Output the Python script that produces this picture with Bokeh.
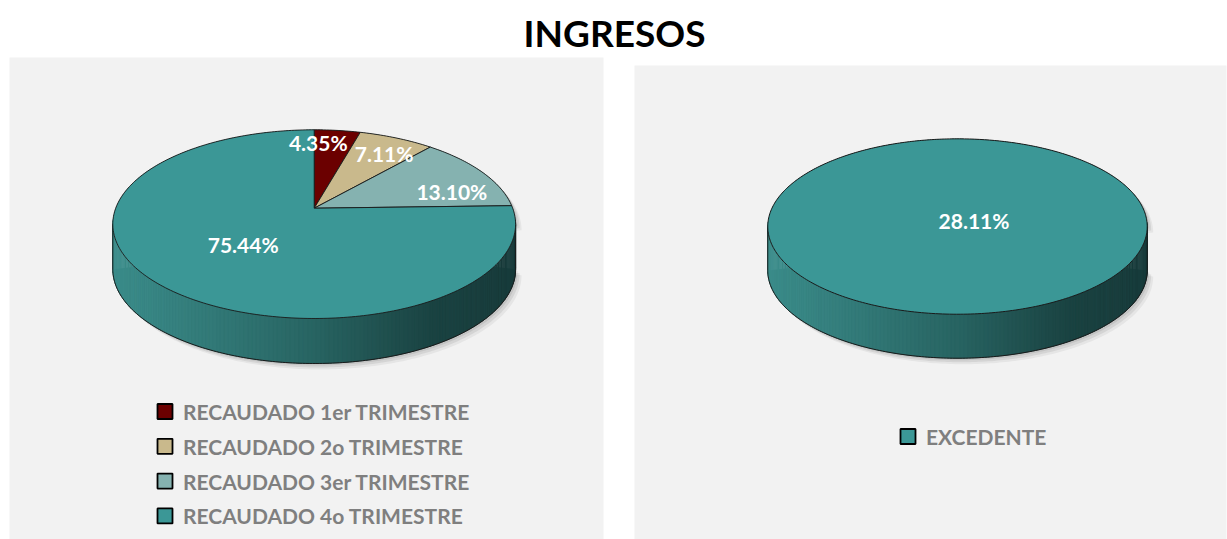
import numpy as np
from bokeh.plotting import figure
from bokeh.models import Range1d
from bokeh.core.properties import value
from bokeh.embed import file_html
from bokeh.resources import INLINE

# ---------------- data ----------------
title_text = "INGRESOS"
left_labels = ["RECAUDADO 1er TRIMESTRE", "RECAUDADO 2o TRIMESTRE",
               "RECAUDADO 3er TRIMESTRE", "RECAUDADO 4o TRIMESTRE"]
left_values = [4.35, 7.11, 13.10, 75.44]
left_colors = ["#6b0000", "#c9b98c", "#85b2b0", "#3b9796"]

right_labels = ["EXCEDENTE"]
right_values = [28.11]          # single slice -> drawn as the full pie
right_colors = ["#3b9796"]

# ---------------- style / layout ----------------
W, H = 1227, 539
FONT = "Lato"
side_stops = [(0.0, (60, 142, 140)), (0.5, (40, 100, 98)),
              (0.8, (26, 66, 65)), (1.0, (24, 58, 58))]

p = figure(width=W, height=H, output_backend="svg", toolbar_location=None,
           x_range=Range1d(0, W), y_range=Range1d(H, 0), min_border=0,
           background_fill_color="white", border_fill_color="white")
p.axis.visible = False
p.grid.visible = False
p.outline_line_color = None

# panels
p.quad(left=[9, 634], right=[603, 1226], top=[57, 65], bottom=[H, H],
       fill_color="#f2f2f2", line_color=None)

p.text(x=[614], y=[32], text=[title_text], text_font=value(FONT),
       text_font_style="bold", text_font_size="37px", text_color="black",
       text_align="center", text_baseline="middle")


def grad(t):
    for (t0, c0), (t1, c1) in zip(side_stops[:-1], side_stops[1:]):
        if t <= t1:
            f = (t - t0) / (t1 - t0)
            c = [int(round(a + (b - a) * f)) for a, b in zip(c0, c1)]
            return "#%02x%02x%02x" % tuple(c)
    return "#%02x%02x%02x" % side_stops[-1][1]


def draw_pie(cx, cy, b, a, k, d, values, colors, label_r, label_dphi):
    def proj(phi):
        u, v = np.cos(phi), np.sin(phi)
        s = 1 + k * v
        return cx + b * u / s, cy - a * v / s

    # silhouette hull
    phL = np.pi + np.arcsin(k)
    phR = 2 * np.pi - np.arcsin(k)
    up = np.linspace(phR - 2 * np.pi, phL, 200)  # upper part of top ellipse
    lo = np.linspace(phL, phR, 200)
    ux, uy = proj(up)
    lx, ly = proj(lo)
    hx = list(ux) + list(lx[::-1])
    hy = list(uy) + list(ly[::-1] + d)
    # soft shadow
    for off, al in [(6, 0.05), (4, 0.07), (2, 0.08)]:
        p.patch(x=[x + off for x in hx], y=[y + off for y in hy],
                fill_color="#000000", fill_alpha=al, line_color=None)
    p.patch(x=hx, y=hy, fill_color=grad(0.5), line_color=None)

    # side gradient strips
    xmin, xmax = proj(phL)[0], proj(phR)[0]
    phis = np.linspace(phL - 0.05, phR + 0.05, 160)
    xs, ys, cs = [], [], []
    for p0, p1 in zip(phis[:-1], phis[1:]):
        x0, y0 = proj(p0)
        x1, y1 = proj(p1)
        xs.append([x0, x1, x1, x0])
        ys.append([y0, y1, y1 + d, y0 + d])
        t = min(max(((x0 + x1) / 2 - xmin) / (xmax - xmin), 0), 1)
        cs.append(grad(t))
    p.patches(xs=xs, ys=ys, fill_color=cs, line_color=cs, line_width=0.6)

    # side outline
    ox = [proj(phL)[0]] + list(lx) + [proj(phR)[0]]
    oy = [proj(phL)[1]] + list(ly + d) + [proj(phR)[1]]
    p.line(ox, oy, line_color="#1a1a1a", line_width=1)

    # top face slices
    total = float(sum(values))
    start = np.pi / 2
    mids = []
    if len(values) == 1:
        full = np.linspace(0, 2 * np.pi, 400)
        fx, fy = proj(full)
        p.patch(x=list(fx), y=list(fy), fill_color=colors[0],
                line_color="#1a1a1a", line_width=1)
        mids.append(start - np.pi)
    else:
        for val, col in zip(values, colors):
            span = 2 * np.pi * val / total
            arc = np.linspace(start, start - span, max(int(span * 60), 4))
            axp, ayp = proj(arc)
            p.patch(x=[cx] + list(axp), y=[cy] + list(ayp), fill_color=col,
                    line_color="#1a1a1a", line_width=0.9)
            mids.append(start - span / 2)
            start -= span
    # labels
    tx, ty = [], []
    for m, r, dp in zip(mids, label_r, label_dphi):
        ph = m + np.radians(dp)
        u, v = r * np.cos(ph), r * np.sin(ph)
        s = 1 + k * v
        tx.append(cx + b * u / s)
        ty.append(cy - a * v / s)
    p.text(x=tx, y=ty, text=["%.2f%%" % v for v in values],
           text_font=value(FONT), text_font_style="bold",
           text_font_size="21px", text_color="white",
           text_align="center", text_baseline="middle")


draw_pie(313.7, 207.7, 198.5, 91.65, 0.169, 45, left_values, left_colors,
         label_r=[0.82, 0.77, 0.74, 0.50], label_dphi=[6.2, -2.1, -10.4, 2.1])
draw_pie(957, 211.2, 187, 85.2, 0.169, 44, right_values, right_colors,
         label_r=[0.13], label_dphi=[42])


def draw_legend(x_sq, y0, dy, labels, colors):
    ys = [y0 + i * dy for i in range(len(labels))]
    p.scatter(x=[x_sq] * len(labels), y=ys, marker="square", size=15,
              fill_color=colors, line_color="black", line_width=1.8)
    p.text(x=[x_sq + 18] * len(labels), y=ys, text=labels,
           text_font=value(FONT), text_font_style="bold",
           text_font_size="21px", text_color="#7f7f7f",
           text_align="left", text_baseline="middle")


draw_legend(164.5, 411, 34.8, left_labels, left_colors)
draw_legend(907.5, 436, 0, right_labels, right_colors)

open("out.html", "w").write(file_html(p, INLINE))
